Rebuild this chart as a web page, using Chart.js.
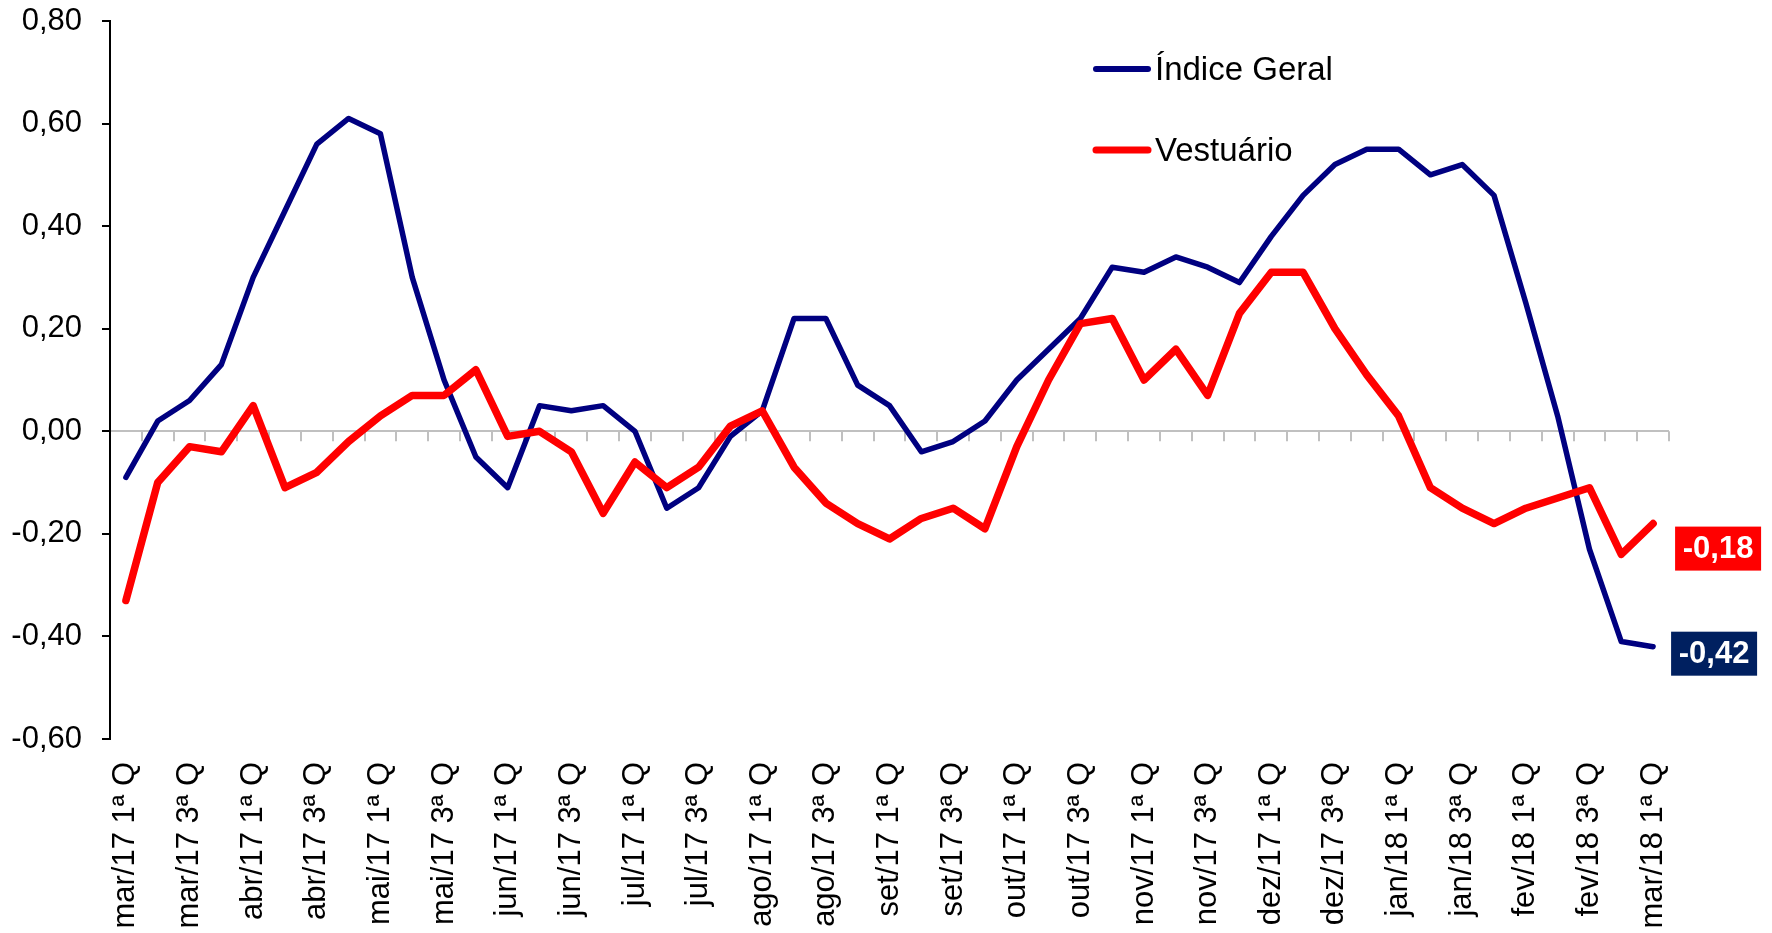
<!DOCTYPE html>
<html><head><meta charset="utf-8">
<script src="https://cdn.jsdelivr.net/npm/chart.js@4.4.1/dist/chart.umd.min.js"></script>
<style>html,body{margin:0;padding:0;background:#fff;overflow:hidden}canvas{display:block}</style>
</head><body>
<canvas id="c" width="1772" height="933"></canvas>
<script>
const categories = [
  'mar/17 1ª Q','mar/17 2ª Q','mar/17 3ª Q','mar/17 4ª Q',
  'abr/17 1ª Q','abr/17 2ª Q','abr/17 3ª Q','abr/17 4ª Q',
  'mai/17 1ª Q','mai/17 2ª Q','mai/17 3ª Q','mai/17 4ª Q',
  'jun/17 1ª Q','jun/17 2ª Q','jun/17 3ª Q','jun/17 4ª Q',
  'jul/17 1ª Q','jul/17 2ª Q','jul/17 3ª Q','jul/17 4ª Q',
  'ago/17 1ª Q','ago/17 2ª Q','ago/17 3ª Q','ago/17 4ª Q',
  'set/17 1ª Q','set/17 2ª Q','set/17 3ª Q','set/17 4ª Q',
  'out/17 1ª Q','out/17 2ª Q','out/17 3ª Q','out/17 4ª Q',
  'nov/17 1ª Q','nov/17 2ª Q','nov/17 3ª Q','nov/17 4ª Q',
  'dez/17 1ª Q','dez/17 2ª Q','dez/17 3ª Q','dez/17 4ª Q',
  'jan/18 1ª Q','jan/18 2ª Q','jan/18 3ª Q','jan/18 4ª Q',
  'fev/18 1ª Q','fev/18 2ª Q','fev/18 3ª Q','fev/18 4ª Q',
  'mar/18 1ª Q'
];
const indiceGeral = [
  -0.09, 0.02, 0.06, 0.13, 0.30, 0.43, 0.56, 0.61, 0.58, 0.30,
   0.10,-0.05,-0.11, 0.05, 0.04, 0.05, 0.00,-0.15,-0.11,-0.01,
   0.04, 0.22, 0.22, 0.09, 0.05,-0.04,-0.02, 0.02, 0.10, 0.16,
   0.22, 0.32, 0.31, 0.34, 0.32, 0.29, 0.38, 0.46, 0.52, 0.55,
   0.55, 0.50, 0.52, 0.46, 0.25, 0.03,-0.23,-0.41,-0.42
];
const vestuario = [
  -0.33,-0.10,-0.03,-0.04, 0.05,-0.11,-0.08,-0.02, 0.03, 0.07,
   0.07, 0.12,-0.01, 0.00,-0.04,-0.16,-0.06,-0.11,-0.07, 0.01,
   0.04,-0.07,-0.14,-0.18,-0.21,-0.17,-0.15,-0.19,-0.03, 0.10,
   0.21, 0.22, 0.10, 0.16, 0.07, 0.23, 0.31, 0.31, 0.20, 0.11,
   0.03,-0.11,-0.15,-0.18,-0.15,-0.13,-0.11,-0.24,-0.18
];
const seriesNames = ['Índice Geral', 'Vestuário'];
const yRange = [-0.6, 0.8];
const yStep = 0.2;

const FONT = '"Liberation Sans", Arial, sans-serif';
const fmt = v => (Math.abs(v) < 1e-9 ? 0 : v).toFixed(2).replace('.', ',');

const zeroTicksPlugin = {
  id: 'zeroTicks',
  beforeDatasetsDraw(chart) {
    const xs = chart.scales.x, ys = chart.scales.y, ctx = chart.ctx;
    const y0 = ys.getPixelForValue(0);
    ctx.save();
    ctx.strokeStyle = '#c0c0c0';
    ctx.lineWidth = 2;
    for (let i = 1; i <= categories.length; i++) {
      const px = Math.round(xs.getPixelForValue(i - 0.5));
      ctx.beginPath(); ctx.moveTo(px, y0); ctx.lineTo(px, y0 + 10); ctx.stroke();
    }
    ctx.restore();
  }
};

const legendPlugin = {
  id: 'innerLegend',
  afterDraw(chart) {
    const ctx = chart.ctx;
    const rows = [69, 150];
    ctx.save();
    chart.data.datasets.forEach((ds, i) => {
      const y = rows[i];
      ctx.strokeStyle = ds.borderColor;
      ctx.lineWidth = i === 0 ? 6 : 7;
      ctx.lineCap = 'round';
      ctx.beginPath(); ctx.moveTo(1096, y); ctx.lineTo(1148, y); ctx.stroke();
      ctx.fillStyle = '#000';
      ctx.font = '33px ' + FONT;
      ctx.textAlign = 'left';
      ctx.textBaseline = 'middle';
      ctx.fillText(ds.label, 1155, y + 2);
    });
    ctx.restore();
  }
};

const endLabelPlugin = {
  id: 'endLabels',
  afterDraw(chart) {
    const ctx = chart.ctx;
    const boxColors = ['#002060', '#FF0000'];
    const dy = [7, 25];
    const dx = [18, 22];
    ctx.save();
    chart.data.datasets.forEach((ds, i) => {
      const meta = chart.getDatasetMeta(i);
      const last = meta.data[meta.data.length - 1];
      const v = ds.data[ds.data.length - 1];
      const w = 86, h = 44;
      const bx = last.x + dx[i], by = last.y + dy[i] - h / 2;
      ctx.fillStyle = boxColors[i];
      ctx.fillRect(bx, by, w, h);
      ctx.fillStyle = '#fff';
      ctx.font = 'bold 31px ' + FONT;
      ctx.textAlign = 'center';
      ctx.textBaseline = 'middle';
      ctx.fillText(fmt(v), bx + w / 2, by + h / 2 + 1);
    });
    ctx.restore();
  }
};

new Chart(document.getElementById('c'), {
  type: 'line',
  data: {
    labels: categories,
    datasets: [
      { label: seriesNames[0], data: indiceGeral, borderColor: '#000080', backgroundColor: '#000080',
        borderWidth: 5.5, pointRadius: 0, tension: 0, order: 1,
        borderJoinStyle: 'round', borderCapStyle: 'round' },
      { label: seriesNames[1], data: vestuario, borderColor: '#FF0000', backgroundColor: '#FF0000',
        borderWidth: 7.5, pointRadius: 0, tension: 0, order: 0,
        borderJoinStyle: 'round', borderCapStyle: 'round' }
    ]
  },
  options: {
    responsive: false,
    animation: false,
    devicePixelRatio: 1,
    layout: { padding: { top: 21, right: 103, bottom: 0, left: 0 } },
    plugins: { legend: { display: false }, tooltip: { enabled: false } },
    scales: {
      x: {
        type: 'category',
        offset: true,
        grid: { display: false, drawTicks: false },
        border: { display: false },
        ticks: {
          autoSkip: false,
          minRotation: 90, maxRotation: 90,
          padding: 23,
          color: '#000',
          font: { family: FONT, size: 31 },
          callback: function(val, idx) { return idx % 2 === 0 ? this.getLabelForValue(val) : ''; }
        },
        afterFit(s) { s.height = 194; s.paddingLeft = 0; s.paddingRight = 0; }
      },
      y: {
        min: yRange[0], max: yRange[1],
        grid: {
          color: c => (c.tick && Math.abs(c.tick.value) < 1e-9) ? '#c0c0c0' : 'rgba(0,0,0,0)',
          lineWidth: 2,
          tickColor: '#000',
          tickLength: 8,
          tickWidth: 2
        },
        border: { display: true, color: '#000', width: 2 },
        ticks: {
          stepSize: yStep,
          padding: 20,
          color: '#000',
          font: { family: FONT, size: 31 },
          callback: v => fmt(v)
        },
        afterFit(s) { s.width = 110; s.paddingTop = 0; s.paddingBottom = 0; }
      }
    }
  },
  plugins: [zeroTicksPlugin, legendPlugin, endLabelPlugin]
});
</script>
</body></html>
